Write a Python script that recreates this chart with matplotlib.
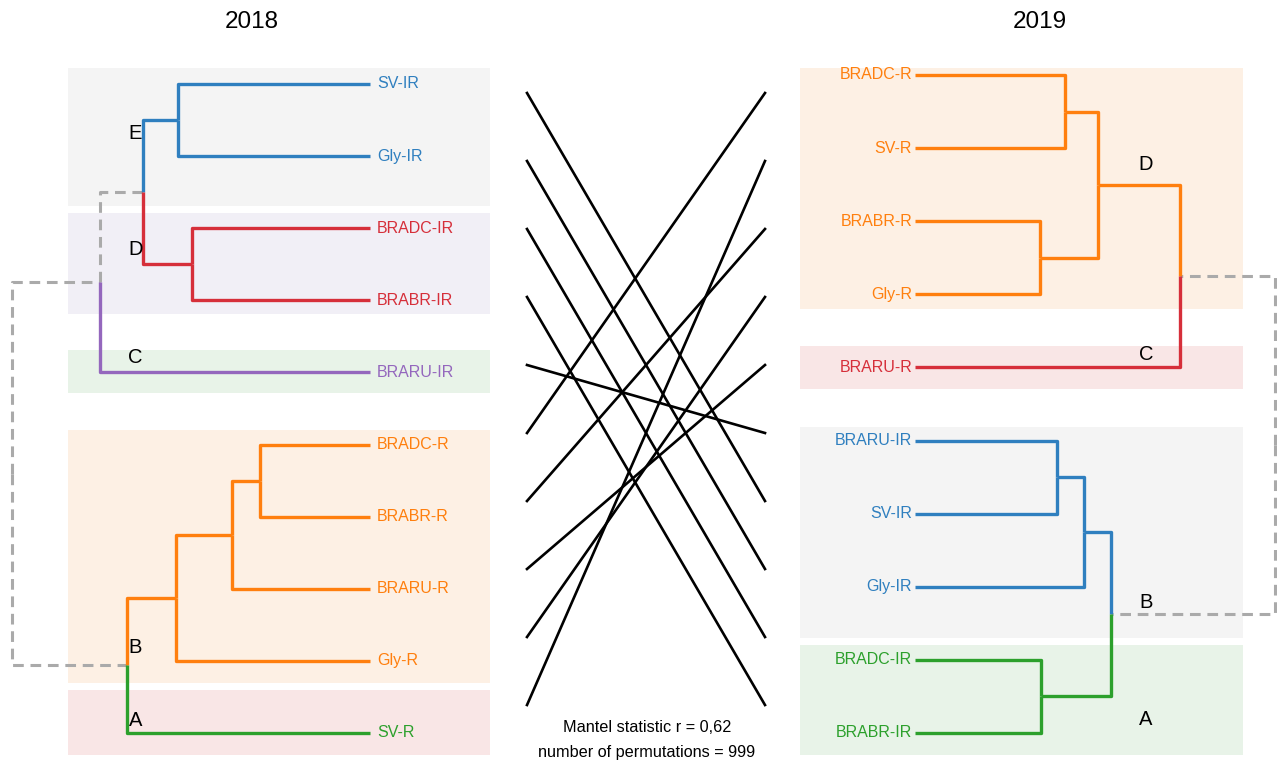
import matplotlib
matplotlib.use('Agg')
import matplotlib.pyplot as plt
from matplotlib.patches import Rectangle

plt.rcParams['font.family'] = ['Liberation Sans', 'DejaVu Sans']

# ---- data ----
left_labels = ['SV-IR', 'Gly-IR', 'BRADC-IR', 'BRABR-IR', 'BRARU-IR',
               'BRADC-R', 'BRABR-R', 'BRARU-R', 'Gly-R', 'SV-R']
# merges: (child a, child b, height), new node ids start at len(labels)
left_merges = [(0, 1, 0.536), (2, 3, 0.497), (10, 11, 0.634), (12, 4, 0.754),
               (5, 6, 0.307), (14, 7, 0.385), (15, 8, 0.542), (16, 9, 0.679),
               (13, 17, 1.0)]
left_clusters = {10: ('E', '#2f7fbf'), 11: ('D', '#d62f3a'), 4: ('C', '#9467bd'),
                 16: ('B', '#ff7f0e'), 9: ('A', '#2ca02c')}

right_labels = ['BRADC-R', 'SV-R', 'BRABR-R', 'Gly-R', 'BRARU-R',
                'BRARU-IR', 'SV-IR', 'Gly-IR', 'BRADC-IR', 'BRABR-IR']
right_merges = [(0, 1, 0.417), (2, 3, 0.347), (10, 11, 0.508), (12, 4, 0.736),
                (5, 6, 0.394), (14, 7, 0.469), (8, 9, 0.35), (15, 16, 0.544),
                (13, 17, 1.0)]
right_clusters = {12: ('D', '#ff7f0e'), 4: ('C', '#d62f3a'),
                  15: ('B', '#2f7fbf'), 16: ('A', '#2ca02c')}

mantel_r = '0,62'
n_perm = 999

# ---- layout ----
W, H = 1277, 760
fig = plt.figure(figsize=(W / 100, H / 100), dpi=100)


def px_axes(x0, x1, y0, y1):
    ax = fig.add_axes([x0 / W, 1 - y1 / H, (x1 - x0) / W, (y1 - y0) / H])
    ax.axis('off')
    return ax


bg = px_axes(0, W, 0, H)
bg.set_xlim(0, W)
bg.set_ylim(H, 0)

# cluster background boxes (pixel layout)
left_boxes = [(68, 206, '#f4f4f4'), (213, 314, '#f1eff6'), (350, 393, '#e8f3e8'),
              (430, 683, '#fdf0e4'), (690, 755, '#f9e6e6')]
right_boxes = [(68, 309, '#fdf0e4'), (346, 389, '#f9e6e6'),
               (427, 638, '#f4f4f4'), (645, 755, '#e8f3e8')]
for y0, y1, c in left_boxes:
    bg.add_patch(Rectangle((68, y0), 422, y1 - y0, color=c, lw=0, zorder=0))
for y0, y1, c in right_boxes:
    bg.add_patch(Rectangle((800, y0), 443, y1 - y0, color=c, lw=0, zorder=0))

bg.text(252, 22, '2018', fontsize=17.5, ha='center', va='center')
bg.text(1040, 22, '2019', fontsize=17.5, ha='center', va='center')
bg.text(647, 727, 'Mantel statistic r = %s' % mantel_r, fontsize=11.7,
        ha='center', va='center')
bg.text(647, 752, 'number of permutations = %d' % n_perm, fontsize=11.7,
        ha='center', va='center')


def draw_tree(ax, labels, merges, clusters):
    n = len(labels)
    ypos = {i: i for i in range(n)}
    hpos = {i: 0.0 for i in range(n)}
    children = {}
    for k, (a, b, h) in enumerate(merges):
        node = n + k
        ypos[node] = (ypos[a] + ypos[b]) / 2
        hpos[node] = h
        children[node] = (a, b)
    color = {}

    def paint(node, c):
        color[node] = c
        for ch in children.get(node, ()):
            paint(ch, c)

    for node, (_, c) in clusters.items():
        paint(node, c)
    for node, (a, b) in children.items():
        for ch in (a, b):
            xs = [hpos[node], hpos[node], hpos[ch]]
            ys = [ypos[node], ypos[ch], ypos[ch]]
            c = color.get(ch)
            if c:
                ax.plot(xs, ys, color=c, lw=2.4, clip_on=False, zorder=3,
                        solid_capstyle='butt')
            else:
                ax.plot(xs, ys, color='#aaaaaa', lw=2.2, ls=(0, (3.5, 2.2)),
                        clip_on=False, zorder=2)
    return color


# left dendrogram (root on the left)
axL = px_axes(12, 370, 84, 733)
axL.set_xlim(1, 0)
axL.set_ylim(len(left_labels) - 1, 0)
colL = draw_tree(axL, left_labels, left_merges, left_clusters)
for i, lab in enumerate(left_labels):
    axL.text(-0.02, i, lab, color=colL[i], fontsize=11.5, ha='left', va='center')
left_letter_y = {'E': 0.68, 'D': 2.3, 'C': 3.79, 'B': 7.82, 'A': 8.82}
for name, y in left_letter_y.items():
    axL.text(0.656, y, name, fontsize=14.5, ha='center', va='center')

# right dendrogram (root on the right)
axR = px_axes(915, 1275, 75, 733)
axR.set_xlim(0, 1)
axR.set_ylim(len(right_labels) - 1, 0)
colR = draw_tree(axR, right_labels, right_merges, right_clusters)
for i, lab in enumerate(right_labels):
    axR.text(-0.008, i, lab, color=colR[i], fontsize=11.5, ha='right', va='center')
right_letter_y = {'D': 1.23, 'C': 3.82, 'B': 7.21, 'A': 8.82}
for name, y in right_letter_y.items():
    axR.text(0.642, y, name, fontsize=14.5, ha='center', va='center')

# connecting lines
axM = px_axes(527, 765, 93, 705)
axM.set_xlim(0, 1)
axM.set_ylim(len(left_labels) - 1, 0)
for i, lab in enumerate(left_labels):
    j = right_labels.index(lab)
    axM.plot([0, 1], [i, j], color='black', lw=1.9, clip_on=False)

fig.savefig('out.png', dpi=100)
